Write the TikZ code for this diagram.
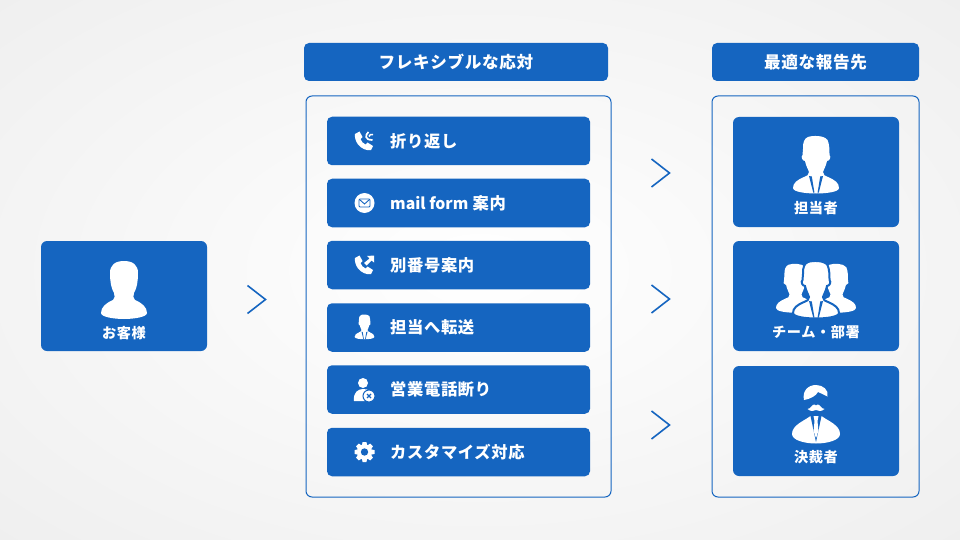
\documentclass[tikz,border=0pt]{standalone}
\usepackage{fontspec}
\setmainfont{Noto Sans CJK JP}[LetterSpace=4]
\newfontfamily\plainfont{Noto Sans CJK JP}
\definecolor{cardblue}{HTML}{1565C0}
\definecolor{bgedge}{HTML}{EFEFEF}
% office man without the collar, origin at the middle of the figure
\newcommand{\manoutline}[1]{
  \fill[white,draw=#1,line width=2pt] (-13,-16) .. controls (-13.500,-22) and (-11.500,-27) .. (-8,-28)
    .. controls (-4,-29.500) and (8,-30) .. (11.500,-25) .. controls (13.500,-21) and (13.500,-14) .. (13.500,-10)
    .. controls (15.500,-8) and (13.500,-4) .. (11,-4) .. controls (10,1) and (8,4) .. (7,7)
    .. controls (7,10) and (9,11) .. (12,12) .. controls (19,15) and (23,18) .. (23,23)
    .. controls (23,27) and (10,28.5) .. (0,28.5) .. controls (-10,28.5) and (-23,27) .. (-23,23)
    .. controls (-23,18) and (-19,15) .. (-12,12) .. controls (-9,11) and (-7,10) .. (-7,7)
    .. controls (-8,4) and (-10,1) .. (-11,-4) .. controls (-13.500,-4) and (-15.500,-8) .. (-13.500,-10) -- cycle;
}
% handset alone
\newcommand{\phoneoutline}{
  \fill[white] (-9,-7) -- (-4.5,-9.5) -- (-1.5,-4) -- (-3.5,-2) .. controls (-3,0) and (-0.5,3) .. (1.5,3.5)
    -- (3.5,1.5) -- (9,5) -- (7,9.2) .. controls (3,10) and (-3,7.5) .. (-6,3.5)
    .. controls (-8.5,0) and (-9.500,-4) .. (-9,-7) -- cycle;
}
\tikzset{
  headbox/.style={fill=cardblue,rounded corners=5pt,inner sep=0pt,minimum height=38pt},
  framebox/.style={draw=cardblue,line width=1pt,rounded corners=6pt,inner sep=0pt},
  rowbox/.style={fill=cardblue,rounded corners=5pt,inner sep=0pt,minimum width=263pt,minimum height=48.5pt},
  cardbox/.style={fill=cardblue,rounded corners=6pt,inner sep=0pt,minimum width=166pt,minimum height=110pt},
  headtext/.style={text=white,font=\bfseries\fontsize{16.6}{18}\selectfont,inner sep=0pt},
  rowtext/.style={text=white,anchor=west,font=\bfseries\fontsize{16.3}{18}\selectfont,inner sep=0pt},
  cardtext/.style={text=white,font=\bfseries\fontsize{14.2}{16}\selectfont,inner sep=0pt},
  chevron/.style={draw=cardblue,line width=1.6pt,fill=none},
  pics/manshape/.style={code={\manoutline{#1}}},
  pics/manshape/.default=none,
  pics/manicon/.style={code={
    \manoutline{#1}
    \fill[cardblue] (-7,11) -- (-4.2,11.5) -- (-1.6,27.5) -- (-2.8,27.5) -- cycle;
    \fill[cardblue] (7,11) -- (4.2,11.5) -- (1.6,27.5) -- (2.8,27.5) -- cycle;
  }},
  pics/manicon/.default=none,
  % customer without tie
  pics/guesticon/.style={code={
    \fill[white] (-14,-17) .. controls (-14,-25) and (-9,-29) .. (0,-29)
      .. controls (9,-29) and (14,-25) .. (14,-17) .. controls (14,-9) and (13,-2) .. (10,3)
      .. controls (9,6) and (9,8) .. (11,10) .. controls (18,13) and (23,17) .. (23,23)
      .. controls (23,27) and (10,29) .. (0,29) .. controls (-10,29) and (-23,27) .. (-23,23)
      .. controls (-23,17) and (-18,13) .. (-11,10) .. controls (-9,8) and (-9,6) .. (-10,3)
      .. controls (-13,-2) and (-14,-9) .. (-14,-17) -- cycle;
  }},
  % man with the moustache
  pics/bossicon/.style={code={
    \fill[white] (-12,-14) .. controls (-14,-23) and (-8,-29) .. (0,-29)
      .. controls (7,-29) and (13,-24) .. (11.5,-17.5) .. controls (8,-19) and (5,-21) .. (2,-22)
      .. controls (0,-18) and (-6,-15) .. (-12,-14) -- cycle;
    \fill[white] (-8.5,-5) .. controls (-5,-5) and (-4,-10) .. (-1.5,-9.5) .. controls (-0.8,-9.5) and (-0.3,-9) .. (0,-8.5)
      .. controls (0.3,-9) and (0.8,-9.5) .. (1.5,-9.5) .. controls (4,-10) and (5,-5) .. (8.5,-5)
      .. controls (5,-2) and (2,-3) .. (0,-4) .. controls (-2,-3) and (-5,-2) .. (-8.5,-5) -- cycle;
    \fill[white] (-5.5,2) -- (0,17) -- (5.5,2) .. controls (12,7) and (24,11) .. (24,20)
      .. controls (24,26) and (12,29.5) .. (0,29.5) .. controls (-12,29.5) and (-24,26) .. (-24,20)
      .. controls (-24,11) and (-12,7) .. (-5.5,2) -- cycle;
    \fill[cardblue] (-5.5,2) -- (-3.6,2) -- (-0.8,16) -- (0,26) -- (0.8,16) -- (3.6,2) -- (5.5,2) -- (0,28) -- cycle;
    \fill[white] (-2.5,2) -- (2.5,2) -- (1.5,7) -- (2.4,17) -- (0,24) -- (-2.4,17) -- (-1.5,7) -- cycle;
  }},
  pics/callbackicon/.style={code={
    \phoneoutline
    \draw[white,line width=1.7pt] (4.5,-9) .. controls (1,-6) and (0.5,-1) .. (8.5,-1);
    \draw[white,line width=1.5pt] (5,-4.5) .. controls (5.5,-6.5) and (7,-7) .. (9,-6.5);
  }},
  pics/forwardicon/.style={code={
    \phoneoutline
    \fill[white] (10,-9.5) -- (3,-9) -- (5.5,-6.5) -- (0,-2) -- (2.5,0.5) -- (7.5,-4.5) -- (10,-2.5) -- cycle;
  }},
  pics/mailicon/.style={code={
    \fill[white] (0,0) circle[radius=10];
    \draw[cardblue,line width=.9pt,rounded corners=1pt] (-5.5,-4) rectangle (5.5,4);
    \draw[cardblue,line width=.9pt] (-5,-3.5) -- (0,1) -- (5,-3.5);
  }},
  pics/rejecticon/.style={code={
    \fill[white] (-1,-6.5) circle[radius=5];
    \fill[white] (-10,11.5) .. controls (-11,3) and (-6,-0.5) .. (-1,-0.5) .. controls (2,-0.5) and (4,0) .. (6,2)
      -- (1,11.5) -- cycle;
    \fill[white,draw=cardblue,line width=1pt] (5,6.5) circle[radius=6];
    \draw[cardblue,line width=1.1pt] (3,4.5) -- (7,8.5) (7,4.5) -- (3,8.5);
  }},
  pics/gearicon/.style={code={
    \foreach \a in {0,45,...,315}
      \fill[white,rotate=\a] (-2.6,-7) -- (-1.9,-10) -- (1.9,-10) -- (2.6,-7) -- cycle;
    \fill[white] (0,0) circle[radius=7.6];
    \fill[cardblue] (0,0) circle[radius=3.7];
  }},
}
\begin{document}
\begin{tikzpicture}[x=1pt,y=-1pt]
\useasboundingbox (0,0) rectangle (960,540);
\shade[inner color=white,outer color=bgedge] (-200,-120) rectangle (1160,660);

% left card
\node[cardbox] (guest) at (124,296) {};
\pic at (124,290) {guesticon};
\node[cardtext] (guesttext) at (124,333) {お客様};
\draw[chevron] (247.500,285.500) -- (265.500,299.500) -- (247.500,313.500);

% middle column
\node[headbox,minimum width=304pt] (flexhead) at (456,62) {};
\node[headtext] (flextext) at (456,62) {フレキシブルな応対};
\node[framebox,minimum width=305pt,minimum height=401pt] (flexframe) at (458.500,296.500) {};
\foreach \y/\name/\txt in {141/rowa/折り返し,203/rowb/{{\plainfont\fontsize{15.8}{18}\selectfont mail form} 案内},265/rowc/別番号案内,327.500/rowd/担当へ転送,389.500/rowe/営業電話断り,452/rowf/カスタマイズ対応}{
  \node[rowbox] (\name) at (458.500,\y) {};
  \node[rowtext] (\name text) at (390,\y) {\txt};
}
\pic at (364,141) {callbackicon};
\pic at (364.500,203) {mailicon};
\pic at (364,265) {forwardicon};
\pic[scale=.43] at (364.500,327) {manicon};
\pic at (364,389.500) {rejecticon};
\pic at (364.500,452) {gearicon};

\foreach \y in {173,299,425}
  \draw[chevron] (651.500,\y-14) -- (669.500,\y) -- (651.500,\y+14);

% right column
\node[headbox,minimum width=207pt] (besthead) at (815.500,62) {};
\node[headtext] (besttext) at (815.500,62) {最適な報告先};
\node[framebox,minimum width=207pt,minimum height=401pt] (bestframe) at (815.500,296.500) {};
\foreach \y/\name/\txt in {172/carda/担当者,296/cardb/チーム・部署,421/cardc/決裁者}{
  \node[cardbox] (\name) at (816,\y) {};
  \node[cardtext] (\name text) at (816,\y+36) {\txt};
}
\pic at (816,165) {manicon};
\pic[scale=.85] at (795.500,288.500) {manshape};
\pic[scale=.85] at (836.500,288.500) {manshape};
\pic at (816,290) {manicon=cardblue};
\pic at (816,414) {bossicon};
\end{tikzpicture}
\end{document}
